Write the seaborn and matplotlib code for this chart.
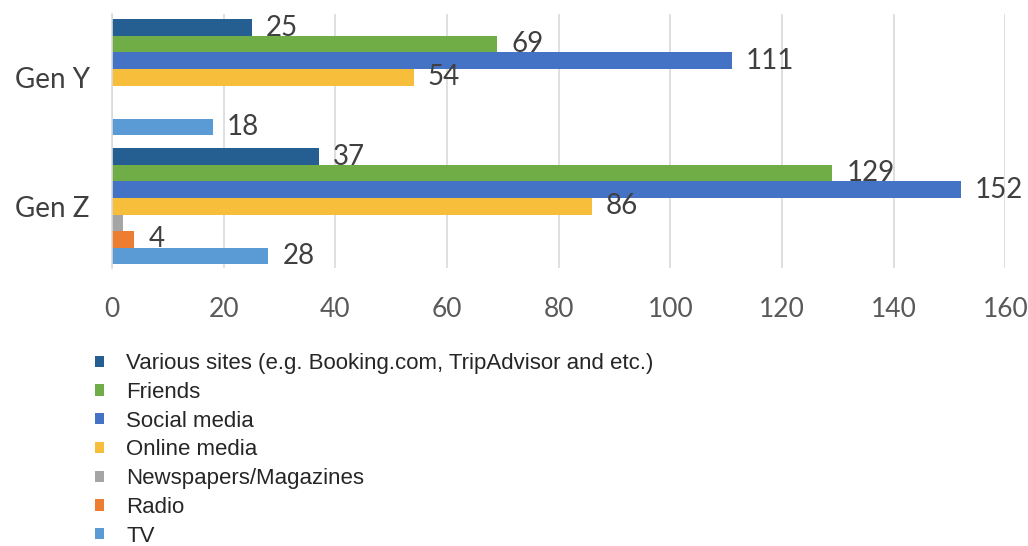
import matplotlib
matplotlib.use("Agg")
import matplotlib.pyplot as plt
import seaborn as sns
import pandas as pd

generations = ["Gen Y", "Gen Z"]
sources = [
    "Various sites (e.g. Booking.com, TripAdvisor and etc.)",
    "Friends",
    "Social media",
    "Online media",
    "Newspapers/Magazines",
    "Radio",
    "TV",
]
various_sites = [25, 37]
friends = [69, 129]
social_media = [111, 152]
online_media = [54, 86]
newspapers = [0, 2]
radio = [0, 4]
tv = [18, 28]
x_ticks = [0, 20, 40, 60, 80, 100, 120, 140, 160]

colors = ["#255E91", "#70AD47", "#4472C4", "#F7BE3C", "#A5A5A5", "#ED7D31", "#5B9BD5"]

series = [various_sites, friends, social_media, online_media, newspapers, radio, tv]
rows = []
for src, vals in zip(sources, series):
    for gen, v in zip(generations, vals):
        rows.append({"gen": gen, "source": src, "value": v})
df = pd.DataFrame(rows)

sns.set_theme(style="white")
fig = plt.figure(figsize=(10.28, 5.46), dpi=100)
ax = fig.add_axes([0.109, 0.509, 0.869, 0.465])

sns.barplot(data=df, x="value", y="gen", hue="source", hue_order=sources,
            order=generations, orient="h", palette=colors, width=0.9,
            saturation=1, errorbar=None, ax=ax, legend=True, linewidth=0)

ax.set_xlim(0, 160)
ax.set_ylim(1.48, -0.49)
ax.set_xticks(x_ticks)
ax.set_xlabel("")
ax.set_ylabel("")
ax.grid(axis="x", color="#D9D9D9", linewidth=1.2)
ax.set_axisbelow(True)
for s in ["top", "right", "bottom"]:
    ax.spines[s].set_visible(False)
ax.spines["left"].set_color("#D9D9D9")
ax.spines["left"].set_linewidth(1.2)
ax.tick_params(axis="both", length=0)
ax.tick_params(axis="x", pad=21, labelsize=19, labelcolor="#595959")
ax.tick_params(axis="y", pad=16, labelsize=20, labelcolor="#404040")
for lab in ax.get_xticklabels() + ax.get_yticklabels():
    lab.set_family("Lato")

# value labels next to each bar, skipping the newspaper series and empty bars
for src, cont, vals in zip(sources, ax.containers, series):
    if src == "Newspapers/Magazines":
        continue
    labels = [str(v) if v > 0 else "" for v in vals]
    ax.bar_label(cont, labels=labels, padding=10, fontsize=20,
                 color="#404040", family="Lato")

handles, labels = ax.get_legend_handles_labels()
ax.get_legend().remove()
fig.legend(handles, labels, loc="upper left", bbox_to_anchor=(0.073, 0.39),
           frameon=False, ncol=1, handlelength=0.4,
           handleheight=0.4, handletextpad=1.0, labelspacing=0.35,
           prop={"family": "Liberation Sans", "size": 16})

fig.savefig("out.png", dpi=100, facecolor="white")
